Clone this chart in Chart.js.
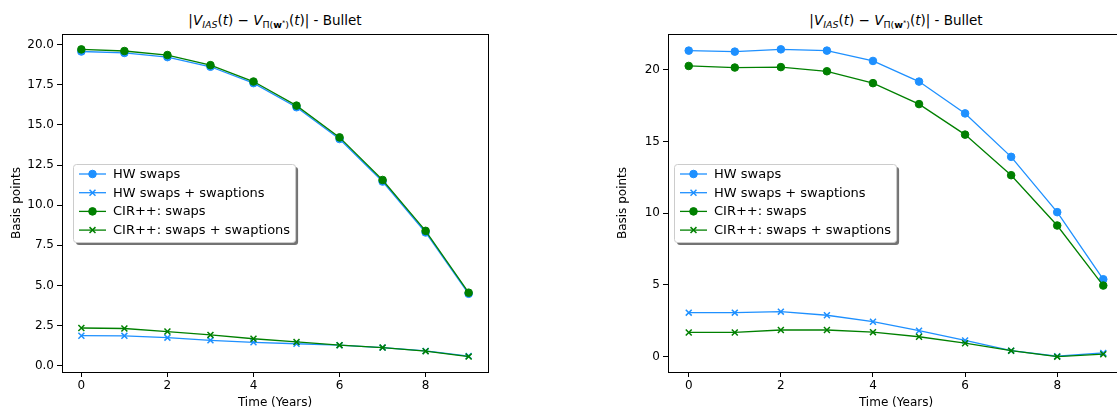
<!DOCTYPE html>
<html>
<head>
<meta charset="utf-8">
<script src="https://cdn.jsdelivr.net/npm/chart.js@4.4.1/dist/chart.umd.min.js"></script>
<style>
  html, body { margin: 0; padding: 0; background: #fff; }
  body { width: 1117px; height: 409px; overflow: hidden; position: relative; font-family: "DejaVu Sans", sans-serif; }
  .ttl { position: absolute; top: 11px; transform: translateX(-50%); white-space: nowrap; font-size: 13.5px; line-height: 18px; color: #000; }
  .ttl sub, .ttl sup { font-size: 70%; line-height: 0; }
  .ttl sub { vertical-align: -0.3em; }
  .ttl sup { vertical-align: 0.45em; }
  #t1 { left: 275px; }
  #t2 { left: 896px; }
  canvas { position: absolute; top: 0; }
  #chart1 { left: 0; }
  #chart2 { left: 560px; }
</style>
</head>
<body>
<div class="ttl" id="t1">|<i>V</i><sub><i>IAS</i></sub>(<i>t</i>) − <i>V</i><sub>Π(<b>w</b><sup>*</sup>)</sub>(<i>t</i>)| - Bullet</div>
<div class="ttl" id="t2">|<i>V</i><sub><i>IAS</i></sub>(<i>t</i>) − <i>V</i><sub>Π(<b>w</b><sup>*</sup>)</sub>(<i>t</i>)| - Bullet</div>
<canvas id="chart1" width="560" height="409"></canvas>
<canvas id="chart2" width="580" height="409"></canvas>
<script>
// ---- data ----
const years = [0, 1, 2, 3, 4, 5, 6, 7, 8, 9];
const xTicks = [0, 2, 4, 6, 8];
const seriesNames = ["HW swaps", "HW swaps + swaptions", "CIR++: swaps", "CIR++: swaps + swaptions"];

// left panel
const hwSwapsL   = [19.57, 19.48, 19.22, 18.62, 17.60, 16.10, 14.12, 11.47, 8.30, 4.48];
const hwSwaptL   = [1.87, 1.86, 1.75, 1.58, 1.46, 1.37, 1.28, 1.13, 0.92, 0.60];
const cirSwapsL  = [19.70, 19.60, 19.35, 18.72, 17.70, 16.20, 14.22, 11.57, 8.40, 4.55];
const cirSwaptL  = [2.35, 2.32, 2.13, 1.92, 1.68, 1.48, 1.28, 1.13, 0.91, 0.57];
const yTicksL    = [0, 2.5, 5, 7.5, 10, 12.5, 15, 17.5, 20];

// right panel
const hwSwapsR   = [21.35, 21.28, 21.44, 21.35, 20.63, 19.19, 16.97, 13.94, 10.08, 5.40];
const hwSwaptR   = [3.07, 3.07, 3.14, 2.89, 2.44, 1.81, 1.13, 0.42, 0.03, 0.26];
const cirSwapsR  = [20.28, 20.17, 20.20, 19.91, 19.08, 17.62, 15.49, 12.66, 9.15, 4.96];
const cirSwaptR  = [1.69, 1.69, 1.86, 1.86, 1.71, 1.39, 0.94, 0.42, 0.00, 0.17];
const yTicksR    = [0, 5, 10, 15, 20];

const BLUE = "#1e90ff";
const GREEN = "#008000";
const FONT = '"DejaVu Sans", sans-serif';

// axes frame + matplotlib style legend (center left, with shadow)
const frameLegend = {
  id: "frameLegend",
  afterDraw(chart, args, opts) {
    const { ctx, chartArea: a } = chart;
    ctx.save();
    ctx.strokeStyle = "#000";
    ctx.lineWidth = 1;
    ctx.strokeRect(Math.round(a.left) + 0.5, Math.round(a.top) + 0.5,
      Math.round(a.right - a.left), Math.round(a.bottom - a.top));

    ctx.font = "13px " + FONT;
    const sets = chart.data.datasets;
    const tw = Math.max(...sets.map(d => ctx.measureText(d.label).width));
    const w = 40 + tw + 5, h = 78;
    const x = a.left + opts.dx, y = Math.round((a.top + a.bottom) / 2 - h / 2);

    function rr(px, py) {
      ctx.beginPath();
      ctx.roundRect(px, py, w, h, 3);
    }
    ctx.fillStyle = "rgba(0,0,0,0.55)";
    rr(x + 3, y + 3); ctx.fill();
    ctx.fillStyle = "#fff";
    ctx.strokeStyle = "#cccccc";
    rr(x + 0.5, y + 0.5); ctx.fill(); ctx.stroke();

    sets.forEach((d, i) => {
      const ry = y + 10 + i * 18.7;
      ctx.strokeStyle = d.borderColor;
      ctx.lineWidth = d.borderWidth;
      ctx.beginPath();
      ctx.moveTo(x + 6, ry); ctx.lineTo(x + 33, ry);
      ctx.stroke();
      ctx.fillStyle = d.pointBackgroundColor;
      ctx.strokeStyle = d.pointBorderColor;
      ctx.lineWidth = d.pointBorderWidth;
      Chart.helpers.drawPoint(ctx, {
        pointStyle: d.pointStyle, radius: d.pointRadius, rotation: 0, borderWidth: d.pointBorderWidth
      }, x + 19.5, ry);
      ctx.fillStyle = "#000";
      ctx.textBaseline = "middle";
      ctx.textAlign = "left";
      ctx.fillText(d.label, x + 40, ry + 0.5);
    });
    ctx.restore();
  }
};

function makeSet(label, values, color, style, order) {
  const circle = style === "circle";
  return {
    label: label,
    data: values.map((v, i) => ({ x: years[i], y: v })),
    borderColor: color,
    backgroundColor: color,
    borderWidth: 1.3,
    pointStyle: style,
    pointRadius: circle ? 3.8 : 4.2,
    pointBackgroundColor: color,
    pointBorderColor: color,
    pointBorderWidth: circle ? 1 : 1.5,
    tension: 0,
    order: order
  };
}

function makeChart(id, sets, yMin, yMax, yTicks, fmt, geo) {
  return new Chart(document.getElementById(id), {
    type: "line",
    data: {
      datasets: [
        makeSet(seriesNames[0], sets[0], BLUE, "circle", 3),
        makeSet(seriesNames[1], sets[1], BLUE, "crossRot", 2),
        makeSet(seriesNames[2], sets[2], GREEN, "circle", 1),
        makeSet(seriesNames[3], sets[3], GREEN, "crossRot", 0)
      ]
    },
    options: {
      responsive: false,
      animation: false,
      events: [],
      layout: { padding: { top: 34, right: geo.padRight, bottom: 0, left: 0 } },
      plugins: {
        legend: { display: false },
        tooltip: { enabled: false },
        frameLegend: { dx: geo.legendDx }
      },
      scales: {
        x: {
          type: "linear",
          min: -0.45,
          max: 9.45,
          afterBuildTicks: s => { s.ticks = xTicks.map(v => ({ value: v })); },
          afterFit: s => { s.height = 37; },
          border: { display: false },
          grid: { drawOnChartArea: false, drawTicks: true, tickLength: 5, color: "#000", tickWidth: 1 },
          ticks: { autoSkip: false, maxRotation: 0, padding: 2, color: "#000", font: { family: FONT, size: 12 } },
          title: { display: true, text: "Time (Years)", color: "#000", padding: 0, font: { family: FONT, size: 12, lineHeight: 1 } }
        },
        y: {
          type: "linear",
          min: yMin,
          max: yMax,
          afterBuildTicks: s => { s.ticks = yTicks.map(v => ({ value: v })); },
          afterFit: s => { s.width = geo.axisW; },
          border: { display: false },
          grid: { drawOnChartArea: false, drawTicks: true, tickLength: 5, color: "#000", tickWidth: 1 },
          ticks: { autoSkip: false, padding: 3, color: "#000", font: { family: FONT, size: 12 }, callback: fmt },
          title: { display: true, text: "Basis points", color: "#000", padding: { top: geo.titlePad, bottom: 0 }, font: { family: FONT, size: 12, lineHeight: 1 } }
        }
      }
    },
    plugins: [frameLegend]
  });
}

makeChart("chart1", [hwSwapsL, hwSwaptL, cirSwapsL, cirSwaptL], -0.39, 20.66, yTicksL,
  v => v.toFixed(1), { padRight: 72, axisW: 62, titlePad: 11, legendDx: 11 });

makeChart("chart2", [hwSwapsR, hwSwaptR, cirSwapsR, cirSwaptR], -1.07, 22.51, yTicksR,
  v => String(v), { padRight: 16, axisW: 108, titlePad: 57, legendDx: 6 });
</script>
</body>
</html>
